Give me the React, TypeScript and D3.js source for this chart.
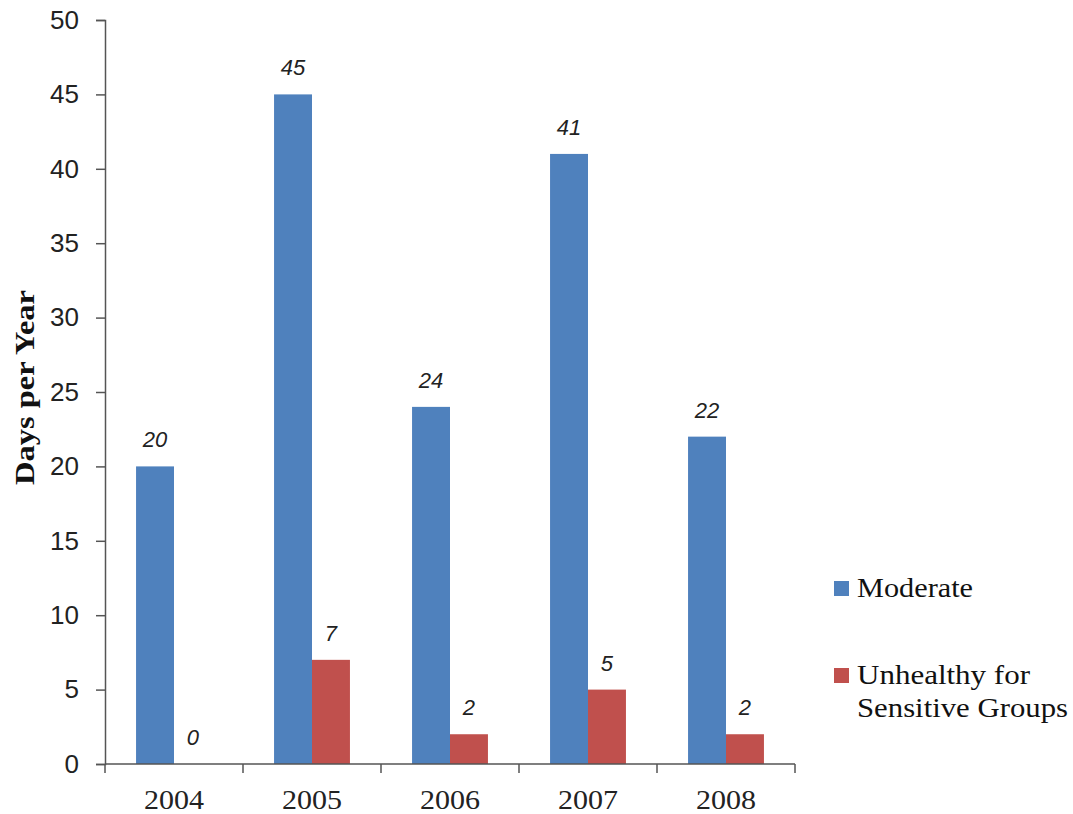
import React, { useEffect, useRef } from 'react';
import * as d3 from 'd3';

const years = ['2004', '2005', '2006', '2007', '2008'];
const moderate = [20, 45, 24, 41, 22];
const unhealthySG = [0, 7, 2, 5, 2];
const seriesNames = ['Moderate', 'Unhealthy for Sensitive Groups'];
const yTicks = [0, 5, 10, 15, 20, 25, 30, 35, 40, 45, 50];

const colors = ['#4F81BD', '#C0504D'];

function App() {
  const svgRef = useRef() as React.RefObject<SVGSVGElement>;

  useEffect(() => {
    const svg = d3.select(svgRef.current);
    svg.selectAll('*').remove();

    const left = 105, right = 795, top = 20, bottom = 764;

    const x = d3.scaleBand().domain(years).range([left, right]).paddingInner(0.45).paddingOuter(0.225);
    const x0 = d3.scaleBand().domain(years).range([left, right]);
    const sub = d3.scaleBand().domain(['0', '1']).range([0, x.bandwidth()]);
    const y = d3.scaleLinear().domain([0, 50]).range([bottom, top]);

    // y axis
    const yAxis = svg.append('g').attr('transform', `translate(${left},0)`)
      .call(d3.axisLeft(y).tickValues(yTicks).tickSize(9).tickPadding(17));
    yAxis.select('.domain').attr('stroke', '#555').attr('stroke-width', 1.5);
    yAxis.selectAll('.tick line').attr('stroke', '#555').attr('stroke-width', 1.5);
    yAxis.selectAll('.tick text')
      .attr('font-family', 'Liberation Sans, sans-serif')
      .attr('font-size', 26).attr('fill', '#222');

    const series = [moderate, unhealthySG];
    series.forEach((vals, s) => {
      svg.append('g').selectAll('rect')
        .data(vals)
        .join('rect')
        .attr('x', (d, i) => (x(years[i]) as number) + (sub(String(s)) as number))
        .attr('y', d => y(d))
        .attr('width', sub.bandwidth())
        .attr('height', d => y(0) - y(d))
        .attr('fill', colors[s]);

      svg.append('g').selectAll('text')
        .data(vals)
        .join('text')
        .attr('x', (d, i) => (x(years[i]) as number) + (sub(String(s)) as number) + sub.bandwidth() / 2)
        .attr('y', d => y(d) - 19)
        .attr('text-anchor', 'middle')
        .attr('font-family', 'Liberation Sans, sans-serif')
        .attr('font-style', 'italic')
        .attr('font-size', 22)
        .attr('fill', '#222')
        .text(d => d);
    });

    // x axis
    const xAxis = svg.append('g').attr('transform', `translate(0,${bottom})`);
    xAxis.append('line').attr('x1', left).attr('x2', right).attr('stroke', '#555').attr('stroke-width', 1.5);
    const bounds = years.map(d => x0(d) as number).concat([right]);
    xAxis.selectAll('.tk').data(bounds).join('line')
      .attr('x1', d => d).attr('x2', d => d).attr('y1', 0).attr('y2', 9)
      .attr('stroke', '#555').attr('stroke-width', 1.5);
    xAxis.selectAll('text').data(years).join('text')
      .attr('x', d => (x0(d) as number) + x0.bandwidth() / 2)
      .attr('y', 45)
      .attr('text-anchor', 'middle')
      .attr('font-family', 'Liberation Serif, serif')
      .attr('font-size', 27)
      .attr('textLength', 60)
      .attr('lengthAdjust', 'spacingAndGlyphs')
      .attr('fill', '#222')
      .text(d => d);

    // y label
    svg.append('text')
      .attr('transform', `translate(34,${(290 + 485) / 2}) rotate(-90)`)
      .attr('text-anchor', 'middle')
      .attr('font-family', 'Liberation Serif, serif')
      .attr('font-weight', 'bold')
      .attr('font-size', 27)
      .attr('textLength', 195)
      .attr('lengthAdjust', 'spacingAndGlyphs')
      .attr('fill', '#111')
      .text('Days per Year');

    // legend
    const leg = svg.append('g');
    const legY = [581, 668];
    const legLines = [['Moderate'], ['Unhealthy for', 'Sensitive Groups']];
    const legLen = [[116], [173, 211]];
    seriesNames.forEach((name, i) => {
      leg.append('rect').attr('x', 834).attr('y', legY[i]).attr('width', 15).attr('height', 15).attr('fill', colors[i]);
      legLines[i].forEach((ln, j) => {
        leg.append('text')
          .attr('x', 857).attr('y', legY[i] + 16 + j * 33)
          .attr('font-family', 'Liberation Serif, serif')
          .attr('font-size', 27)
          .attr('textLength', legLen[i][j])
          .attr('lengthAdjust', 'spacingAndGlyphs')
          .attr('fill', '#111')
          .text(ln);
      });
    });
  }, []);

  return (
    <div>
      <svg ref={svgRef} width={1073} height={814} style={{ position: 'absolute', left: 0, top: 0 }}></svg>
    </div>
  );
}

export default App;
